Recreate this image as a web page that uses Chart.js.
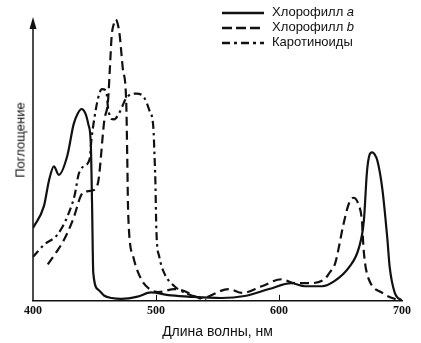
<!DOCTYPE html>
<html>
<head>
<meta charset="utf-8">
<script src="https://cdn.jsdelivr.net/npm/chart.js@4/dist/chart.umd.min.js"></script>
<style>
	html, body { margin: 0; padding: 0; background: #fff; }
	#wrap { position: relative; width: 421px; height: 343px; }
	#ytitle {
		position: absolute; left: 20px; top: 140px;
		transform: translate(-50%, -50%) rotate(-90deg);
		font: 13px "Liberation Sans", Arial, sans-serif; color: #111; white-space: nowrap;
	}
	#legend { position: absolute; left: 220px; top: 4px; font: 13px "Liberation Sans", Arial, sans-serif; color: #111; }
	#legend div { height: 15px; line-height: 15px; white-space: nowrap; }
	#legend svg { vertical-align: middle; margin-right: 8px; }
</style>
</head>
<body>
<div id="wrap">
	<canvas id="spectrum" width="421" height="343"></canvas>
	<div id="ytitle">Поглощение</div>
	<div id="legend">
		<div><svg width="44" height="6"><line x1="2" y1="3" x2="44" y2="3" stroke="#111" stroke-width="2.4"/></svg>Хлорофилл <i>a</i></div>
		<div><svg width="44" height="6"><line x1="2" y1="3" x2="44" y2="3" stroke="#111" stroke-width="2.4" stroke-dasharray="10,4"/></svg>Хлорофилл <i>b</i></div>
		<div><svg width="44" height="6"><line x1="2" y1="3" x2="44" y2="3" stroke="#111" stroke-width="2.4" stroke-dasharray="8,4,3,4"/></svg>Каротиноиды</div>
	</div>
</div>
<script>
var
	xTicks = [400, 500, 600, 700],
	chlAWave = [400, 409, 413, 417, 421, 428, 433, 436.5, 439.5, 442.5, 445, 447, 448, 449, 453, 458, 464, 472, 485, 496, 510, 526, 553, 572, 592, 610, 621, 635, 645, 657, 665, 669, 671.5, 673.5, 675.5, 677.5, 680, 684, 688, 690, 694, 700],
	chlAAbs = [26, 34, 43, 48, 45, 52, 63, 67, 68.5, 67, 63, 56, 35, 10, 4, 1.8, 1, 0.7, 1.5, 3, 2, 1.5, 1, 1.7, 4.2, 6.3, 5.2, 5.2, 7, 12, 19, 28.6, 46, 52, 53, 52.5, 50, 40, 22.6, 12, 3, 0],
	chlBWave = [412, 419, 425, 433, 439, 442, 449, 453, 458, 461, 462.5, 464, 465.8, 467.3, 468.8, 470.5, 473, 475.8, 476.6, 477.4, 481.5, 488, 494.6, 502, 515, 523, 531, 537, 559, 570, 586, 602, 613, 624, 637, 641, 645.6, 652.4, 656.5, 660.6, 664.7, 667.4, 668.7, 670, 673, 684, 698],
	chlBAbs = [13, 17.4, 21.6, 29.6, 37.6, 39, 39.5, 42.5, 64.5, 71.4, 83, 94.8, 99, 100.5, 99, 94.8, 83, 71, 52, 31, 15.7, 7.7, 4.2, 3.1, 4.2, 3.5, 1.7, 1, 4.2, 2.8, 5.2, 7.7, 6.3, 6.3, 7.7, 10, 13.3, 27.3, 34.3, 36.8, 34.3, 28.6, 19, 13.3, 7.7, 2.8, 0],
	carWave = [400, 409, 420, 428.5, 434, 437, 441, 446, 447.5, 450, 453, 456, 459.5, 461, 463.6, 466, 470, 476, 484, 490.5, 494.6, 498, 498.6, 499.5, 500.3, 502.7, 506.8, 515, 526, 537, 541],
	carAbs = [15.7, 20, 23.7, 30.7, 38, 45, 48, 50.5, 57.5, 65.5, 72.5, 75.6, 75, 69, 65, 64.8, 67, 72.5, 74, 72.5, 68, 61, 54, 42.5, 25, 15.7, 9.8, 5.2, 2.4, 0.7, 0];

function toPoints(wave, abs) {
	return wave.map(function (w, i) { return { x: w, y: abs[i] }; });
}

var axesPlugin = {
	id: 'axesPlugin',
	afterDraw: function (chart) {
		var ctx = chart.ctx, area = chart.chartArea, xs = chart.scales.x;
		ctx.save();
		ctx.strokeStyle = '#111';
		ctx.fillStyle = '#111';
		ctx.lineWidth = 1.5;
		// vertical axis with arrow
		ctx.beginPath();
		ctx.moveTo(area.left, area.bottom);
		ctx.lineTo(area.left, area.top + 2);
		ctx.stroke();
		ctx.beginPath();
		ctx.moveTo(area.left, area.top - 1);
		ctx.lineTo(area.left - 3.5, area.top + 11);
		ctx.lineTo(area.left + 3.5, area.top + 11);
		ctx.closePath();
		ctx.fill();
		// inner tick marks
		ctx.lineWidth = 1;
		xTicks.slice(1, -1).forEach(function (v) {
			var px = Math.round(xs.getPixelForValue(v)) + 0.5;
			ctx.beginPath();
			ctx.moveTo(px, area.bottom);
			ctx.lineTo(px, area.bottom - 6);
			ctx.stroke();
		});
		ctx.restore();
	}
};

var ctx = document.getElementById('spectrum').getContext('2d');
var spectrum = new Chart(ctx, {
	type: 'line',
	data: {
		datasets: [{
			label: 'Хлорофилл a',
			data: toPoints(chlAWave, chlAAbs),
			borderColor: '#111',
			borderWidth: 2.2
		}, {
			label: 'Хлорофилл b',
			data: toPoints(chlBWave, chlBAbs),
			borderColor: '#111',
			borderWidth: 2.2,
			borderDash: [9, 5]
		}, {
			label: 'Каротиноиды',
			data: toPoints(carWave, carAbs),
			borderColor: '#111',
			borderWidth: 2.2,
			borderDash: [8, 4, 2.5, 4]
		}]
	},
	options: {
		responsive: false,
		animation: false,
		parsing: false,
		layout: { padding: { left: 33, right: 19, top: 18, bottom: 2 } },
		elements: {
			point: { radius: 0 },
			line: { cubicInterpolationMode: 'monotone', fill: false }
		},
		plugins: {
			legend: { display: false },
			tooltip: { enabled: false }
		},
		scales: {
			x: {
				type: 'linear',
				min: 400,
				max: 700,
				afterBuildTicks: function (scale) {
					scale.ticks = xTicks.map(function (v) { return { value: v }; });
				},
				grid: { display: false, drawTicks: false },
				border: { display: true, color: '#111', width: 1.5 },
				ticks: {
					padding: 3,
					color: '#111',
					font: { family: 'Liberation Serif', size: 12, weight: 'bold' }
				},
				title: {
					display: true,
					text: 'Длина волны, нм',
					color: '#111',
					padding: { top: 3, bottom: 0 },
					font: { family: 'Liberation Sans', size: 14 }
				}
			},
			y: {
				display: false,
				min: 0,
				max: 101
			}
		}
	},
	plugins: [axesPlugin]
});
</script>
</body>
</html>
